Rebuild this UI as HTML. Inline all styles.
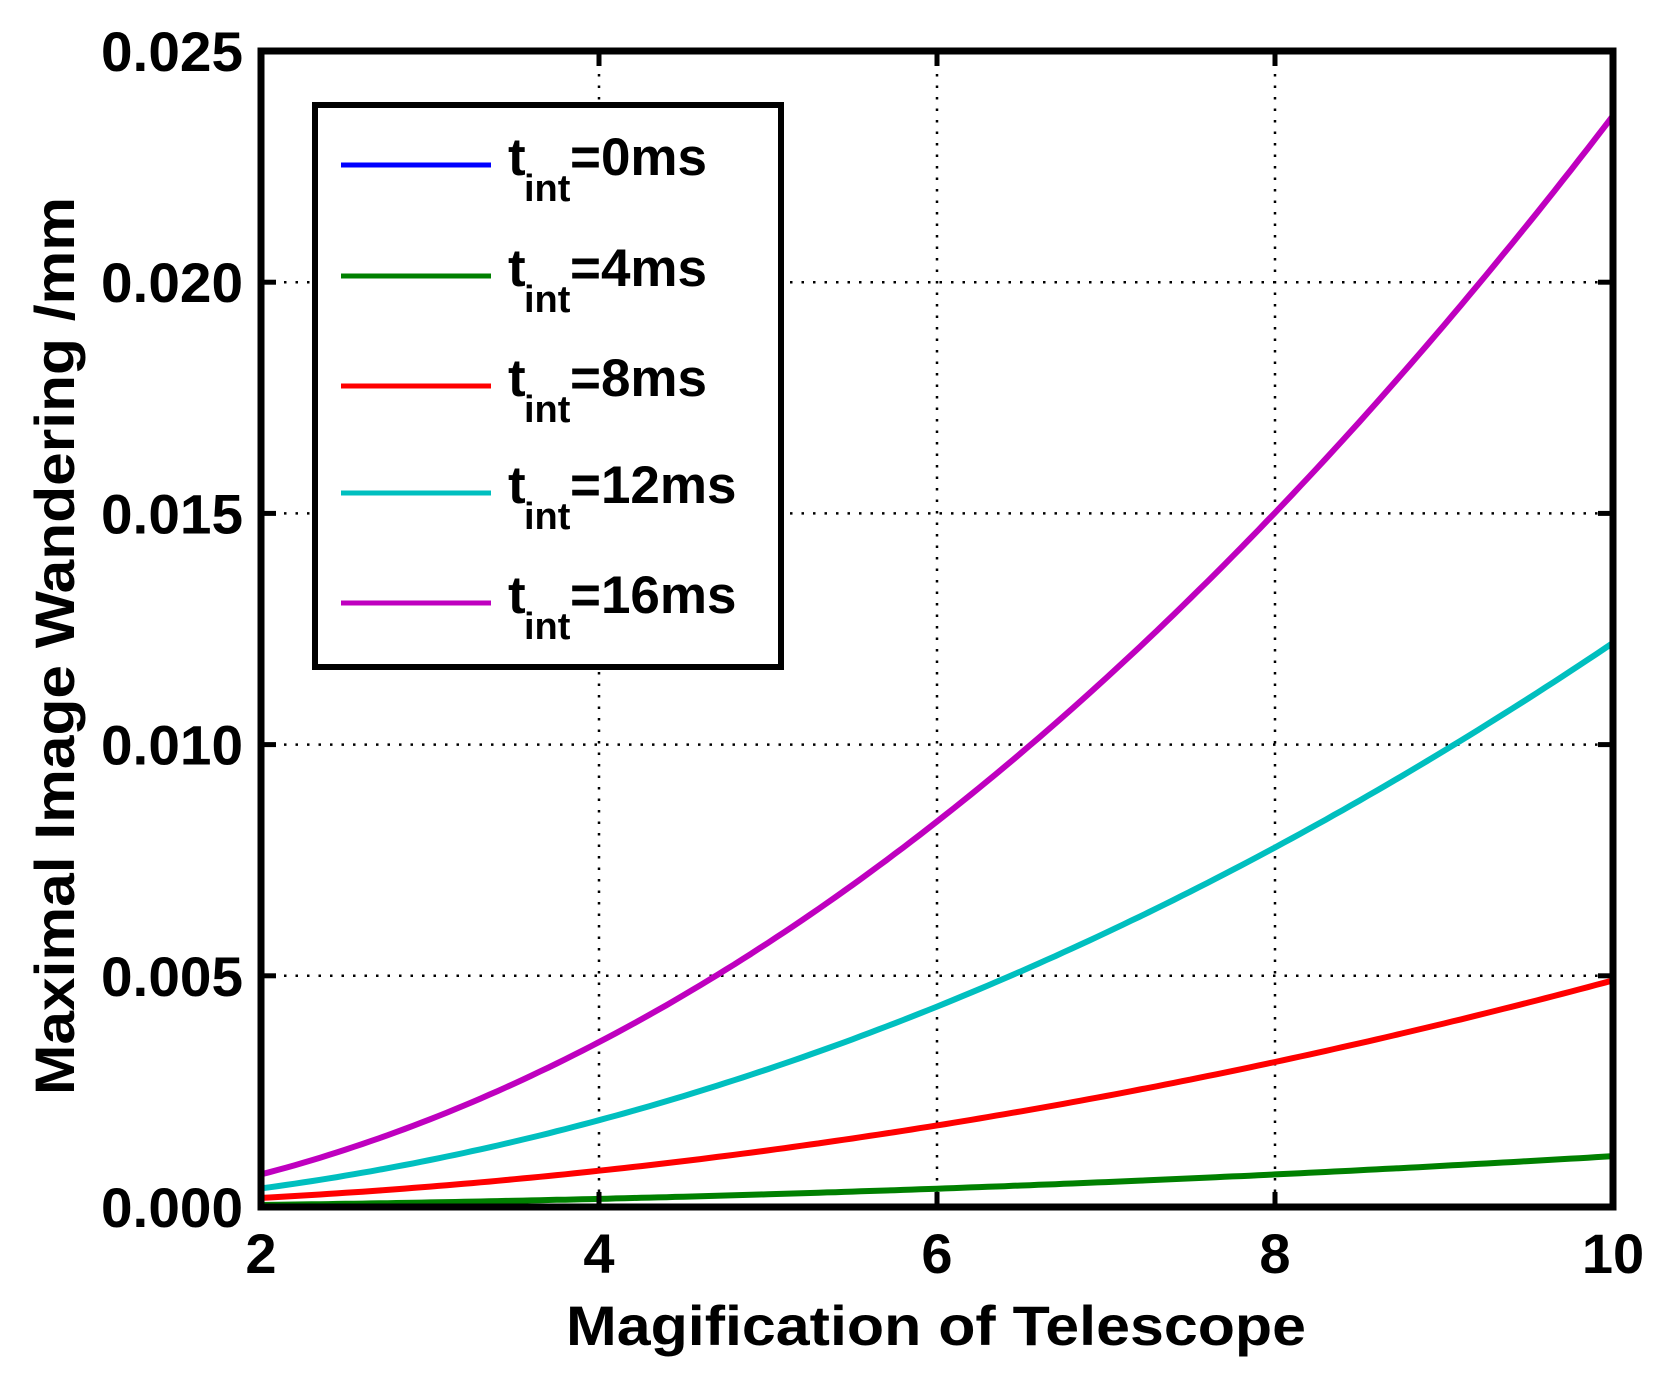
<!DOCTYPE html>
<html><head><meta charset="utf-8"><style>
html,body{margin:0;padding:0;background:#fff;}
svg{display:block;}
text{font-family:"Liberation Sans",Arial,sans-serif;font-weight:bold;fill:#000;}
</style></head><body>
<svg id="s" width="1667" height="1379" viewBox="0 0 1667 1379" xmlns="http://www.w3.org/2000/svg">
<g id="grid" stroke="#000" stroke-width="2.5" stroke-dasharray="2.5,9"></g>
<g id="curves" fill="none" stroke-width="6" stroke-linejoin="round"></g>
<rect x="261" y="51" width="1352" height="1156" fill="none" stroke="#000" stroke-width="7"/>
<g id="ticks" stroke="#000" stroke-width="5"></g>
<g id="labels" font-size="56"></g>
<text x="936" y="1345" font-size="56" text-anchor="middle" textLength="740" lengthAdjust="spacingAndGlyphs">Magification of Telescope</text>
<text transform="translate(74,646) rotate(-90)" font-size="56" text-anchor="middle" textLength="898" lengthAdjust="spacingAndGlyphs">Maximal Image Wandering /mm</text>
<rect x="315" y="105" width="466" height="562" fill="#fff" stroke="#000" stroke-width="6"/>
<g id="legend"></g>
</svg>
<script>
var NS="http://www.w3.org/2000/svg";
function el(p,t,a,txt){var e=document.createElementNS(NS,t);for(var k in a)e.setAttribute(k,a[k]);if(txt!=null)e.textContent=txt;document.getElementById(p).appendChild(e);return e;}
var L=261,R=1613,T=51,B=1207;
function X(m){return L+(m-2)*(R-L)/8;}
function Y(v){return B-v*(B-T)/0.025;}
[4,6,8].forEach(function(m){el("grid","line",{x1:X(m),y1:T,x2:X(m),y2:B});});
[0.005,0.01,0.015,0.02].forEach(function(v){el("grid","line",{x1:L,y1:Y(v),x2:R,y2:Y(v)});});
[2,4,6,8,10].forEach(function(m){el("ticks","line",{x1:X(m),y1:B,x2:X(m),y2:B-15});el("ticks","line",{x1:X(m),y1:T,x2:X(m),y2:T+15});
 el("labels","text",{x:X(m),y:1273,"text-anchor":"middle"},String(m));});
["0.000","0.005","0.010","0.015","0.020","0.025"].forEach(function(s,i){var v=i*0.005;
 el("ticks","line",{x1:L,y1:Y(v),x2:L+15,y2:Y(v)});el("ticks","line",{x1:R,y1:Y(v),x2:R-15,y2:Y(v)});
 el("labels","text",{x:101,y:Y(v)+20,textLength:142,lengthAdjust:"spacingAndGlyphs"},s);});
var series=[["#0000ff",0,0],["#008000",0.000011,0],["#ff0000",0.000049,0],["#00bfbf",0.0001229,-0.00009],["#bf00bf",0.0002385,-0.00025]];
series.forEach(function(s){var pts=[];for(var m=2;m<=10.0001;m+=0.05){pts.push(X(m).toFixed(1)+","+Y(s[1]*m*m+s[2]).toFixed(1));}
 el("curves","polyline",{points:pts.join(" "),stroke:s[0]});});
var names=["0","4","8","12","16"],ly=[165,276,386,493,603];
names.forEach(function(n,i){var y=ly[i];
 el("legend","line",{x1:341,y1:y,x2:491,y2:y,stroke:series[i][0],"stroke-width":5});
 el("legend","text",{x:508,y:y+10,"font-size":53},"t");
 el("legend","text",{x:524,y:y+36,"font-size":38},"int");
 el("legend","text",{x:570,y:y+10,"font-size":53},"="+n+"ms");});
</script>
</body></html>
